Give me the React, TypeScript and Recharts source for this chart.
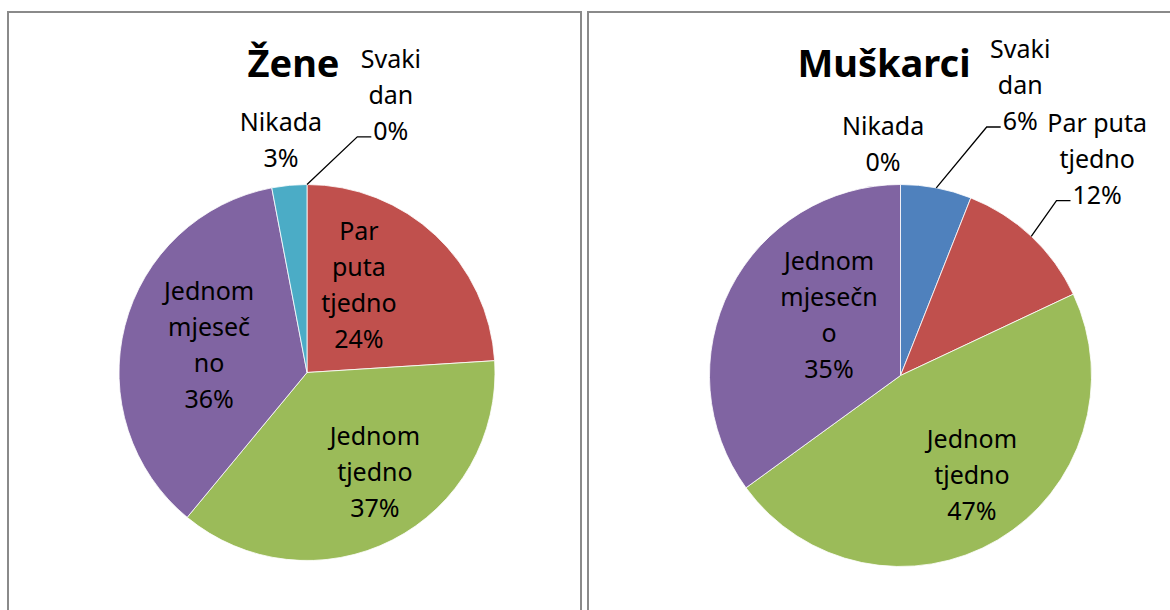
import { PieChart, Pie, Cell } from "recharts";

const categories = ["Svaki dan", "Par puta tjedno", "Jednom tjedno", "Jednom mjesečno", "Nikada"];
const zeneValues = [0, 24, 37, 36, 3];
const muskarciValues = [6, 12, 47, 35, 0];

// how Excel wrapped each category name in the label box
const zeneLines = [["Svaki", "dan"], ["Par", "puta", "tjedno"], ["Jednom", "tjedno"], ["Jednom", "mjeseč", "no"], ["Nikada"]];
const muskarciLines = [["Svaki", "dan"], ["Par puta", "tjedno"], ["Jednom", "tjedno"], ["Jednom", "mjesečn", "o"], ["Nikada"]];

const colors = ["#4F81BD", "#C0504D", "#9BBB59", "#8064A2", "#4BACC6"];

// label placement: angle nudge (deg) from slice middle, distance as a multiple of radius
const zeneLayout = {
  shift: [-16.8, 12.5, 7.3, -1.3, 1],
  dist: [1.543, 0.541, 0.641, 0.541, 1.242],
  leader: [true, false, false, false, false],
};
const muskarciLayout = {
  shift: [-11.6, 1, 5.1, -13.2, 4.3],
  dist: [1.645, 1.533, 0.641, 0.49, 1.218],
  leader: [true, true, false, false, false],
};

const FONT = "'Noto Sans', sans-serif";
const FS = 25;
const LH = 36;

let ctx: CanvasRenderingContext2D | null = null;
function textWidth(s: string): number {
  if (!ctx) ctx = document.createElement("canvas").getContext("2d");
  if (!ctx) return s.length * FS * 0.6;
  ctx.font = `${FS}px 'Noto Sans'`;
  return ctx.measureText(s).width;
}

function makeLabel(lines: string[][], layout: typeof zeneLayout) {
  return (props: any) => {
    const { cx, cy, midAngle, outerRadius, index, value } = props;
    const rows = [...lines[index], `${value}%`];
    const a = ((midAngle + layout.shift[index]) * Math.PI) / 180;
    const d = outerRadius * layout.dist[index];
    const x = cx + d * Math.cos(a);
    const y = cy - d * Math.sin(a);
    const top = y - ((rows.length - 1) * LH) / 2;
    let leader = null;
    if (layout.leader[index]) {
      const m = (midAngle * Math.PI) / 180;
      const sx = cx + outerRadius * Math.cos(m);
      const sy = cy - outerRadius * Math.sin(m);
      const ex = x - textWidth(rows[rows.length - 1]) / 2 - 2;
      const ey = top + (rows.length - 1) * LH + 6;
      leader = (
        <polyline
          points={`${sx},${sy} ${ex - 14},${ey} ${ex},${ey}`}
          fill="none"
          stroke="#000"
          strokeWidth={1.3}
        />
      );
    }
    return (
      <g key={`lbl-${index}`}>
        {leader}
        <text textAnchor="middle" fontFamily={FONT} fontSize={FS} fill="#000">
          {rows.map((r, i) => (
            <tspan key={i} x={x} y={top + i * LH + 9}>
              {r}
            </tspan>
          ))}
        </text>
      </g>
    );
  };
}

function GenderPie({
  title,
  values,
  lines,
  layout,
  width,
  cx,
  cy,
  r,
  titleX,
}: {
  title: string;
  values: number[];
  lines: string[][];
  layout: typeof zeneLayout;
  width: number;
  cx: number;
  cy: number;
  r: number;
  titleX: number;
}) {
  const data = values.map((v, i) => ({ name: categories[i], value: v }));
  return (
    <PieChart width={width} height={599} margin={{ top: 0, right: 0, bottom: 0, left: 0 }}>
      <text
        x={titleX}
        y={66}
        textAnchor="middle"
        fontFamily={FONT}
        fontWeight="bold"
        fontSize={38}
        fill="#000"
      >
        {title}
      </text>
      <Pie
        data={data}
        dataKey="value"
        nameKey="name"
        cx={cx}
        cy={cy}
        outerRadius={r}
        startAngle={90}
        endAngle={-270}
        stroke="#fff"
        strokeWidth={0.8}
        label={makeLabel(lines, layout)}
        labelLine={false}
        isAnimationActive={false}
      >
        {data.map((_, i) => (
          <Cell key={i} fill={colors[i]} />
        ))}
      </Pie>
    </PieChart>
  );
}

const box = {
  position: "absolute" as const,
  top: 11,
  height: 620,
  boxSizing: "border-box" as const,
  border: "2px solid #8a8a8a",
};

export default function App() {
  return (
    <div
      style={{
        position: "fixed",
        left: 0,
        top: 0,
        width: 1170,
        height: 610,
        overflow: "hidden",
        background: "#fff",
      }}
    >
      <div style={{ ...box, left: 7, width: 575 }} />
      <div style={{ ...box, left: 587, width: 600 }} />
      <div style={{ position: "absolute", left: 7, top: 11 }}>
        <GenderPie
          title="Žene"
          values={zeneValues}
          lines={zeneLines}
          layout={zeneLayout}
          width={575}
          cx={300}
          cy={361.5}
          r={188}
          titleX={286.5}
        />
      </div>
      <div style={{ position: "absolute", left: 587, top: 11 }}>
        <GenderPie
          title="Muškarci"
          values={muskarciValues}
          lines={muskarciLines}
          layout={muskarciLayout}
          width={583}
          cx={313.5}
          cy={364.5}
          r={191}
          titleX={297}
        />
      </div>
    </div>
  );
}
